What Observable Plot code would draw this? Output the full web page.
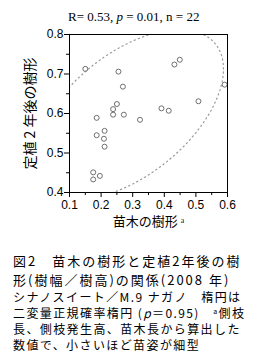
<!DOCTYPE html>
<html><head><meta charset="utf-8">
<script src="https://cdn.jsdelivr.net/npm/d3@7"></script>
<script src="https://cdn.jsdelivr.net/npm/@observablehq/plot@0.6"></script>
<style>
html,body{margin:0;padding:0;background:#fff;width:264px;overflow:hidden;}
#ttl{height:26px;box-sizing:border-box;padding-top:10px;padding-left:68px;line-height:14px;font-family:"Liberation Serif",serif;font-size:13px;text-align:left;width:264px;color:#000;white-space:nowrap;}
#chart svg{display:block;}
#cap1{margin-top:15.5px;padding-left:13px;font-family:"Noto Sans CJK JP",sans-serif;font-size:13px;letter-spacing:2px;line-height:19px;white-space:nowrap;color:#000;}
#cap2{margin-top:0.5px;padding-left:13px;font-family:"Noto Sans CJK JP",sans-serif;font-size:12px;letter-spacing:1.4px;line-height:16px;white-space:nowrap;color:#000;}
sup{font-size:7px;vertical-align:4px;line-height:0;}
</style></head><body>
<div id="ttl"></div>
<div id="chart"></div>
<div id="cap1">図2　苗木の樹形と定植2年後の樹<br>形(樹幅／樹高)の関係(2008 年)</div>
<div id="cap2">シナノスイート／M.9 ナガノ　楕円は<br>二変量正規確率楕円 (<i>p</i>＝0.95)　<sup>a</sup>側枝<br>長、側枝発生高、苗木長から算出した<br>数値で、小さいほど苗姿が細型</div>
<script>
// Seedling tree shape (x) and tree shape 2 years after planting (y)
const seedlingShape = [0.150,0.255,0.269,0.432,0.449,0.591,0.508,0.391,0.414,0.250,0.238,0.238,0.272,0.186,0.323,0.186,0.211,0.209,0.211,0.175,0.175,0.196];
const shapeAfter2y  = [0.713,0.706,0.668,0.724,0.736,0.673,0.631,0.613,0.607,0.624,0.611,0.597,0.597,0.589,0.584,0.545,0.556,0.536,0.516,0.451,0.433,0.442];
const xTicks = [0.1,0.2,0.3,0.4,0.5,0.6];
const xMinor = [0.15,0.25,0.35,0.45,0.55];
const yTicks = [0.4,0.5,0.6,0.7,0.8];
const yMinor = [0.45,0.55,0.65,0.75];
const statR = "0.53", statP = "0.01", statN = "22";
const xLabel = "苗木の樹形 ᵃ";
const yLabel = "定植 2 年後の樹形";

document.getElementById("ttl").innerHTML =
  `R= ${statR}, <i>p</i> = ${statP}, n = ${statN}`;

const pts = seedlingShape.map((x,i)=>({x, y: shapeAfter2y[i]}));

// 95% bivariate normal probability ellipse from the data's mean and covariance
const n = pts.length;
const mx = d3.mean(pts,d=>d.x), my = d3.mean(pts,d=>d.y);
const sxx = d3.sum(pts,d=>(d.x-mx)**2)/(n-1);
const syy = d3.sum(pts,d=>(d.y-my)**2)/(n-1);
const sxy = d3.sum(pts,d=>(d.x-mx)*(d.y-my))/(n-1);
const c = Math.sqrt(5.991);
const l11 = Math.sqrt(sxx), l21 = sxy/l11, l22 = Math.sqrt(syy - l21*l21);
const ell = d3.range(0, 361, 2).map(a=>{
  const t = a*Math.PI/180, u = Math.cos(t)*c, v = Math.sin(t)*c;
  return {x: mx + l11*u, y: my + l21*u + l22*v};
});

const plot = Plot.plot({
  width: 264, height: 209,
  marginTop: 8, marginBottom: 43, marginLeft: 69, marginRight: 37,
  style: {fontFamily: "Liberation Sans, Arial, sans-serif", fontSize: "12px", background: "#fff", color: "#000"},
  x: {domain: [0.1, 0.6]},
  y: {domain: [0.4, 0.8]},
  marks: [
    Plot.line(ell, {x:"x", y:"y", stroke:"#999", strokeWidth:1.2, strokeDasharray:"1.2,3.3", clip:true}),
    Plot.dot(pts, {x:"x", y:"y", r:2.5, stroke:"#6e6e6e", strokeWidth:1, fill:"none"}),
    Plot.frame({stroke:"#000"}),
    Plot.axisX(xTicks, {tickSize:5, tickPadding:3, tickFormat: d3.format(".1f"), label:null, stroke:"#000"}),
    Plot.axisX(xMinor, {tickSize:3, tickFormat: ()=>"", label:null, stroke:"#000"}),
    Plot.axisY(yTicks, {tickSize:5, tickPadding:1, tickFormat: d3.format(".1f"), label:null, stroke:"#000"}),
    Plot.axisY(yMinor, {tickSize:3, tickFormat: ()=>"", label:null, stroke:"#000"}),
    Plot.text([xLabel], {frameAnchor:"bottom", dy:33, textAnchor:"middle", text:d=>d, fontFamily:"Noto Sans CJK JP", fontSize:13, fill:"#000"}),
    Plot.text([yLabel], {frameAnchor:"left", dx:-39, rotate:-90, textAnchor:"middle", text:d=>d, fontFamily:"Noto Sans CJK JP", fontSize:14, fill:"#000"})
  ]
});
document.getElementById("chart").appendChild(plot);
</script>
</body></html>
